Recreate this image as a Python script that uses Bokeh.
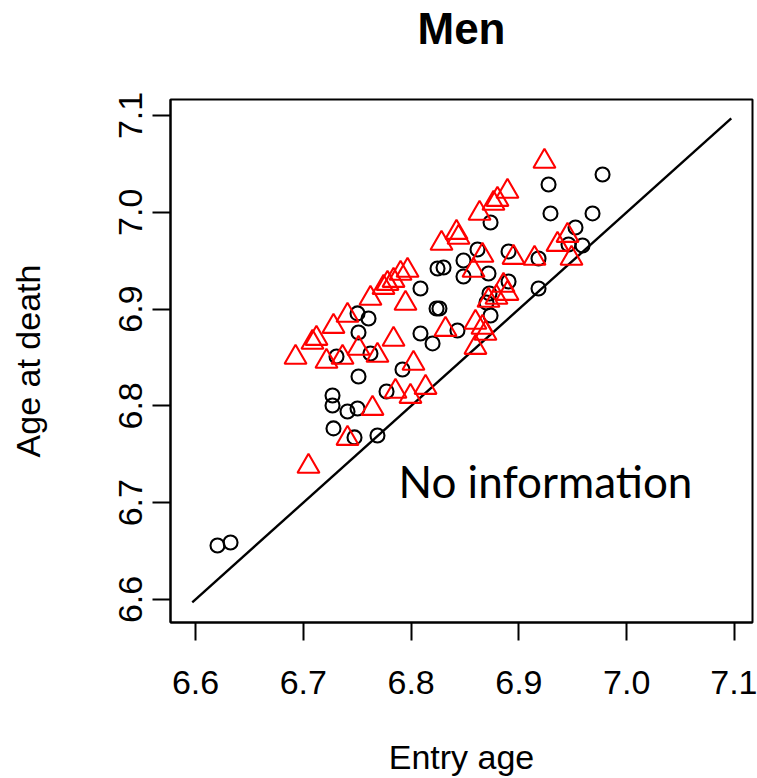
from bokeh.plotting import figure
from bokeh.models import Range1d, FixedTicker, PrintfTickFormatter, Label, LinearAxis
from bokeh.embed import file_html
from bokeh.resources import INLINE

# Data
no_info_x = [6.6204, 6.6325, 6.9776, 6.9275, 6.9293, 6.9683, 6.9525, 6.8737, 6.8616, 6.8904,
             6.9460, 6.9590, 6.9182, 6.8486, 6.8245, 6.8301, 6.8486, 6.8718, 6.8087, 6.8904,
             6.8727, 6.8699, 6.9182, 6.8236, 6.8263, 6.8737, 6.8087, 6.8430, 6.8199, 6.7503,
             6.7605, 6.7512, 6.7308, 6.7623, 6.7512, 6.7920, 6.7271, 6.7271, 6.7410, 6.7503,
             6.7772, 6.7280, 6.7475, 6.7688]
no_info_y = [6.6558, 6.6589, 7.0390, 7.0287, 6.9988, 6.9988, 6.9843, 6.9895, 6.9616, 6.9595,
             6.9667, 6.9657, 6.9523, 6.9502, 6.9419, 6.9430, 6.9337, 6.9368, 6.9213, 6.9285,
             6.9161, 6.9068, 6.9213, 6.9006, 6.9006, 6.8934, 6.8748, 6.8779, 6.8645, 6.8955,
             6.8903, 6.8758, 6.8510, 6.8541, 6.8304, 6.8376, 6.8107, 6.8004, 6.7942, 6.7973,
             6.8149, 6.7767, 6.7674, 6.7694]

info_x = [6.9237, 6.8894, 6.8801, 6.8764, 6.8635, 6.8421, 6.8440, 6.8282, 6.8662, 6.8950,
          6.9145, 6.9358, 6.9451, 6.9488, 6.7967, 6.7902, 6.7837, 6.7781, 6.7744, 6.8579,
          6.8857, 6.8894, 6.8792, 6.8718, 6.7948, 6.7623, 6.7410, 6.7280, 6.8319, 6.8597,
          6.8662, 6.8690, 6.8597, 6.7837, 6.7085, 6.7122, 6.6928, 6.7215, 6.7364, 6.7512,
          6.7688, 6.8022, 6.8134, 6.7994, 6.7855, 6.7642, 6.7410, 6.7048]
info_y = [7.0525, 7.0215, 7.0132, 7.0091, 6.9988, 6.9791, 6.9740, 6.9678, 6.9554, 6.9533,
          6.9523, 6.9667, 6.9760, 6.9523, 6.9399, 6.9368, 6.9295, 6.9264, 6.9223, 6.9399,
          6.9244, 6.9161, 6.9120, 6.9089, 6.9058, 6.9110, 6.8934, 6.8820, 6.8789, 6.8862,
          6.8810, 6.8748, 6.8603, 6.8686, 6.8655, 6.8696, 6.8500, 6.8459, 6.8500, 6.8593,
          6.8521, 6.8438, 6.8190, 6.8097, 6.8149, 6.7973, 6.7663, 6.7374]

diag_x = [6.597, 7.097]
diag_y = [6.597, 7.097]

ticks = [6.6, 6.7, 6.8, 6.9, 7.0, 7.1]

FONT = "Liberation Sans"

p = figure(width=757, height=778, output_backend="svg", toolbar_location=None,
           x_range=Range1d(6.5768, 7.1167), y_range=Range1d(6.5762, 7.1165),
           min_border_left=170, min_border_right=5, min_border_top=99, min_border_bottom=156)
p.background_fill_color = "white"
p.border_fill_color = "white"
p.outline_line_color = "black"
p.outline_line_width = 2
p.grid.visible = False

for ax in (p.xaxis[0], p.yaxis[0]):
    ax.ticker = FixedTicker(ticks=ticks)
    ax.formatter = PrintfTickFormatter(format="%.1f")
    ax.axis_line_color = "black"
    ax.axis_line_width = 2
    ax.major_tick_line_color = "black"
    ax.major_tick_line_width = 2
    ax.major_tick_out = 18
    ax.major_tick_in = 0
    ax.minor_tick_line_color = None
    ax.major_label_text_font = FONT
    ax.major_label_text_font_size = "34px"
    ax.major_label_text_color = "black"
    ax.axis_label_text_font = FONT
    ax.axis_label_text_font_size = "34px"
    ax.axis_label_text_font_style = "normal"
    ax.axis_label_text_color = "black"

p.xaxis.axis_label = "Entry age"
p.xaxis.major_label_standoff = 30
p.xaxis.axis_label_standoff = 41
p.yaxis.axis_label = "Age at death"
p.yaxis.major_label_orientation = "vertical"
p.yaxis.major_label_standoff = 10
p.yaxis.axis_label_standoff = 70

# Title: an axis above the frame that carries only its label
top_axis = LinearAxis(ticker=FixedTicker(ticks=[]), axis_label="Men",
                      axis_label_text_font=FONT, axis_label_text_font_size="44px",
                      axis_label_text_font_style="bold", axis_label_text_color="black",
                      axis_label_standoff=47, axis_line_color=None,
                      major_tick_line_color=None, minor_tick_line_color=None,
                      major_label_text_font_size="0px", major_label_standoff=0,
                      major_tick_out=0, major_tick_in=0)
p.add_layout(top_axis, "above")

p.line(diag_x, diag_y, line_color="black", line_width=2.4)
p.scatter(no_info_x, no_info_y, marker="circle", size=14, fill_color=None,
          line_color="black", line_width=2.1)
p.scatter(info_x, info_y, marker="triangle", size=22, fill_color=None,
          line_color="red", line_width=2.1)

p.add_layout(Label(x=6.7883, y=6.7222, text="No information", text_font="Lato",
                   text_font_size="44px", text_color="black", text_baseline="alphabetic"))

open("out.html", "w").write(file_html(p, INLINE))
